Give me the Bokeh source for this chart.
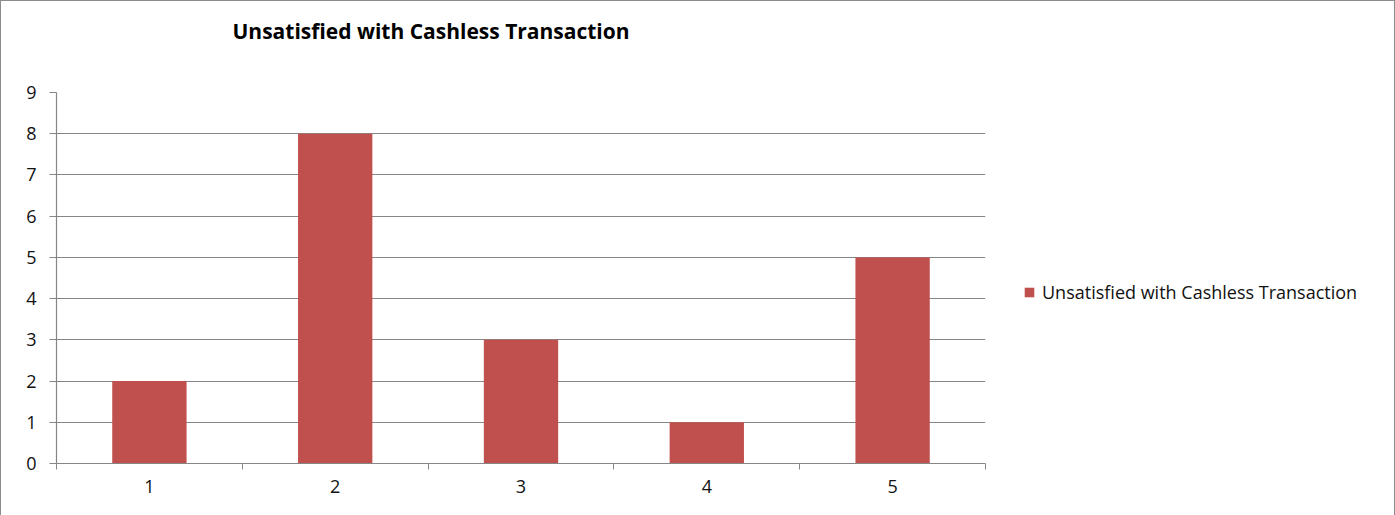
from bokeh.plotting import figure
from bokeh.models import FixedTicker, Legend, LegendItem, Range1d, Label
from bokeh.embed import file_html
from bokeh.resources import INLINE

categories = [1, 2, 3, 4, 5]
values = [2, 8, 3, 1, 5]
y_ticks = [0, 1, 2, 3, 4, 5, 6, 7, 8, 9]
series_name = "Unsatisfied with Cashless Transaction"
title_text = "Unsatisfied with Cashless Transaction"

FONT = "Open Sans"
GRID = "#868686"
BAR = "#C0504D"

p = figure(frame_width=929, frame_height=371, output_backend="svg", toolbar_location=None,
           x_range=Range1d(0.5, 5.5), y_range=Range1d(0, 9),
           min_border_left=55, min_border_right=0, min_border_top=91, min_border_bottom=53)
p.title.visible = False
p.outline_line_color = None
p.background_fill_color = "white"
p.border_fill_color = "white"
p.styles = {"border": "1.5px solid #8c8c8c", "box-sizing": "border-box",
            "max-width": "1395px", "overflow": "hidden"}

r = p.vbar(x=categories, top=values, width=0.4, fill_color=BAR, line_color=None)

p.xgrid.visible = False
p.ygrid.ticker = FixedTicker(ticks=y_ticks)
p.ygrid.grid_line_color = GRID
p.ygrid.grid_line_width = 1.2

yax = p.yaxis[0]
yax.ticker = FixedTicker(ticks=y_ticks)
yax.axis_line_color = GRID
yax.axis_line_width = 1.2
yax.major_tick_line_color = GRID
yax.major_tick_in = 0
yax.major_tick_out = 7
yax.minor_tick_line_color = None
yax.major_label_text_font = FONT
yax.major_label_text_font_size = "18px"
yax.major_label_text_color = "#111111"
yax.major_label_standoff = 13

xax = p.xaxis[0]
xax.ticker = FixedTicker(ticks=categories, minor_ticks=[0.5, 1.5, 2.5, 3.5, 4.5, 5.5])
xax.axis_line_color = GRID
xax.axis_line_width = 1.2
xax.major_tick_line_color = None
xax.major_tick_out = 6
xax.minor_tick_line_color = GRID
xax.minor_tick_in = 0
xax.minor_tick_out = 6
xax.major_label_text_font = FONT
xax.major_label_text_font_size = "18px"
xax.major_label_text_color = "#111111"
xax.major_label_standoff = 10

title = Label(x=176, y=62, x_units="screen", y_units="screen", text=title_text,
              text_font=FONT, text_font_size="21px", text_font_style="bold",
              text_baseline="middle", text_align="left", text_color="#000000")
p.add_layout(title, "above")

legend = Legend(items=[LegendItem(label=series_name, renderers=[r])],
                location=(38, 159), glyph_width=12, glyph_height=12,
                label_standoff=7, padding=0, margin=0, border_line_color=None,
                background_fill_alpha=0, label_text_font=FONT,
                label_text_font_size="18px", label_text_color="#111111")
p.add_layout(legend, "right")

open("out.html", "w").write(file_html(p, INLINE))
